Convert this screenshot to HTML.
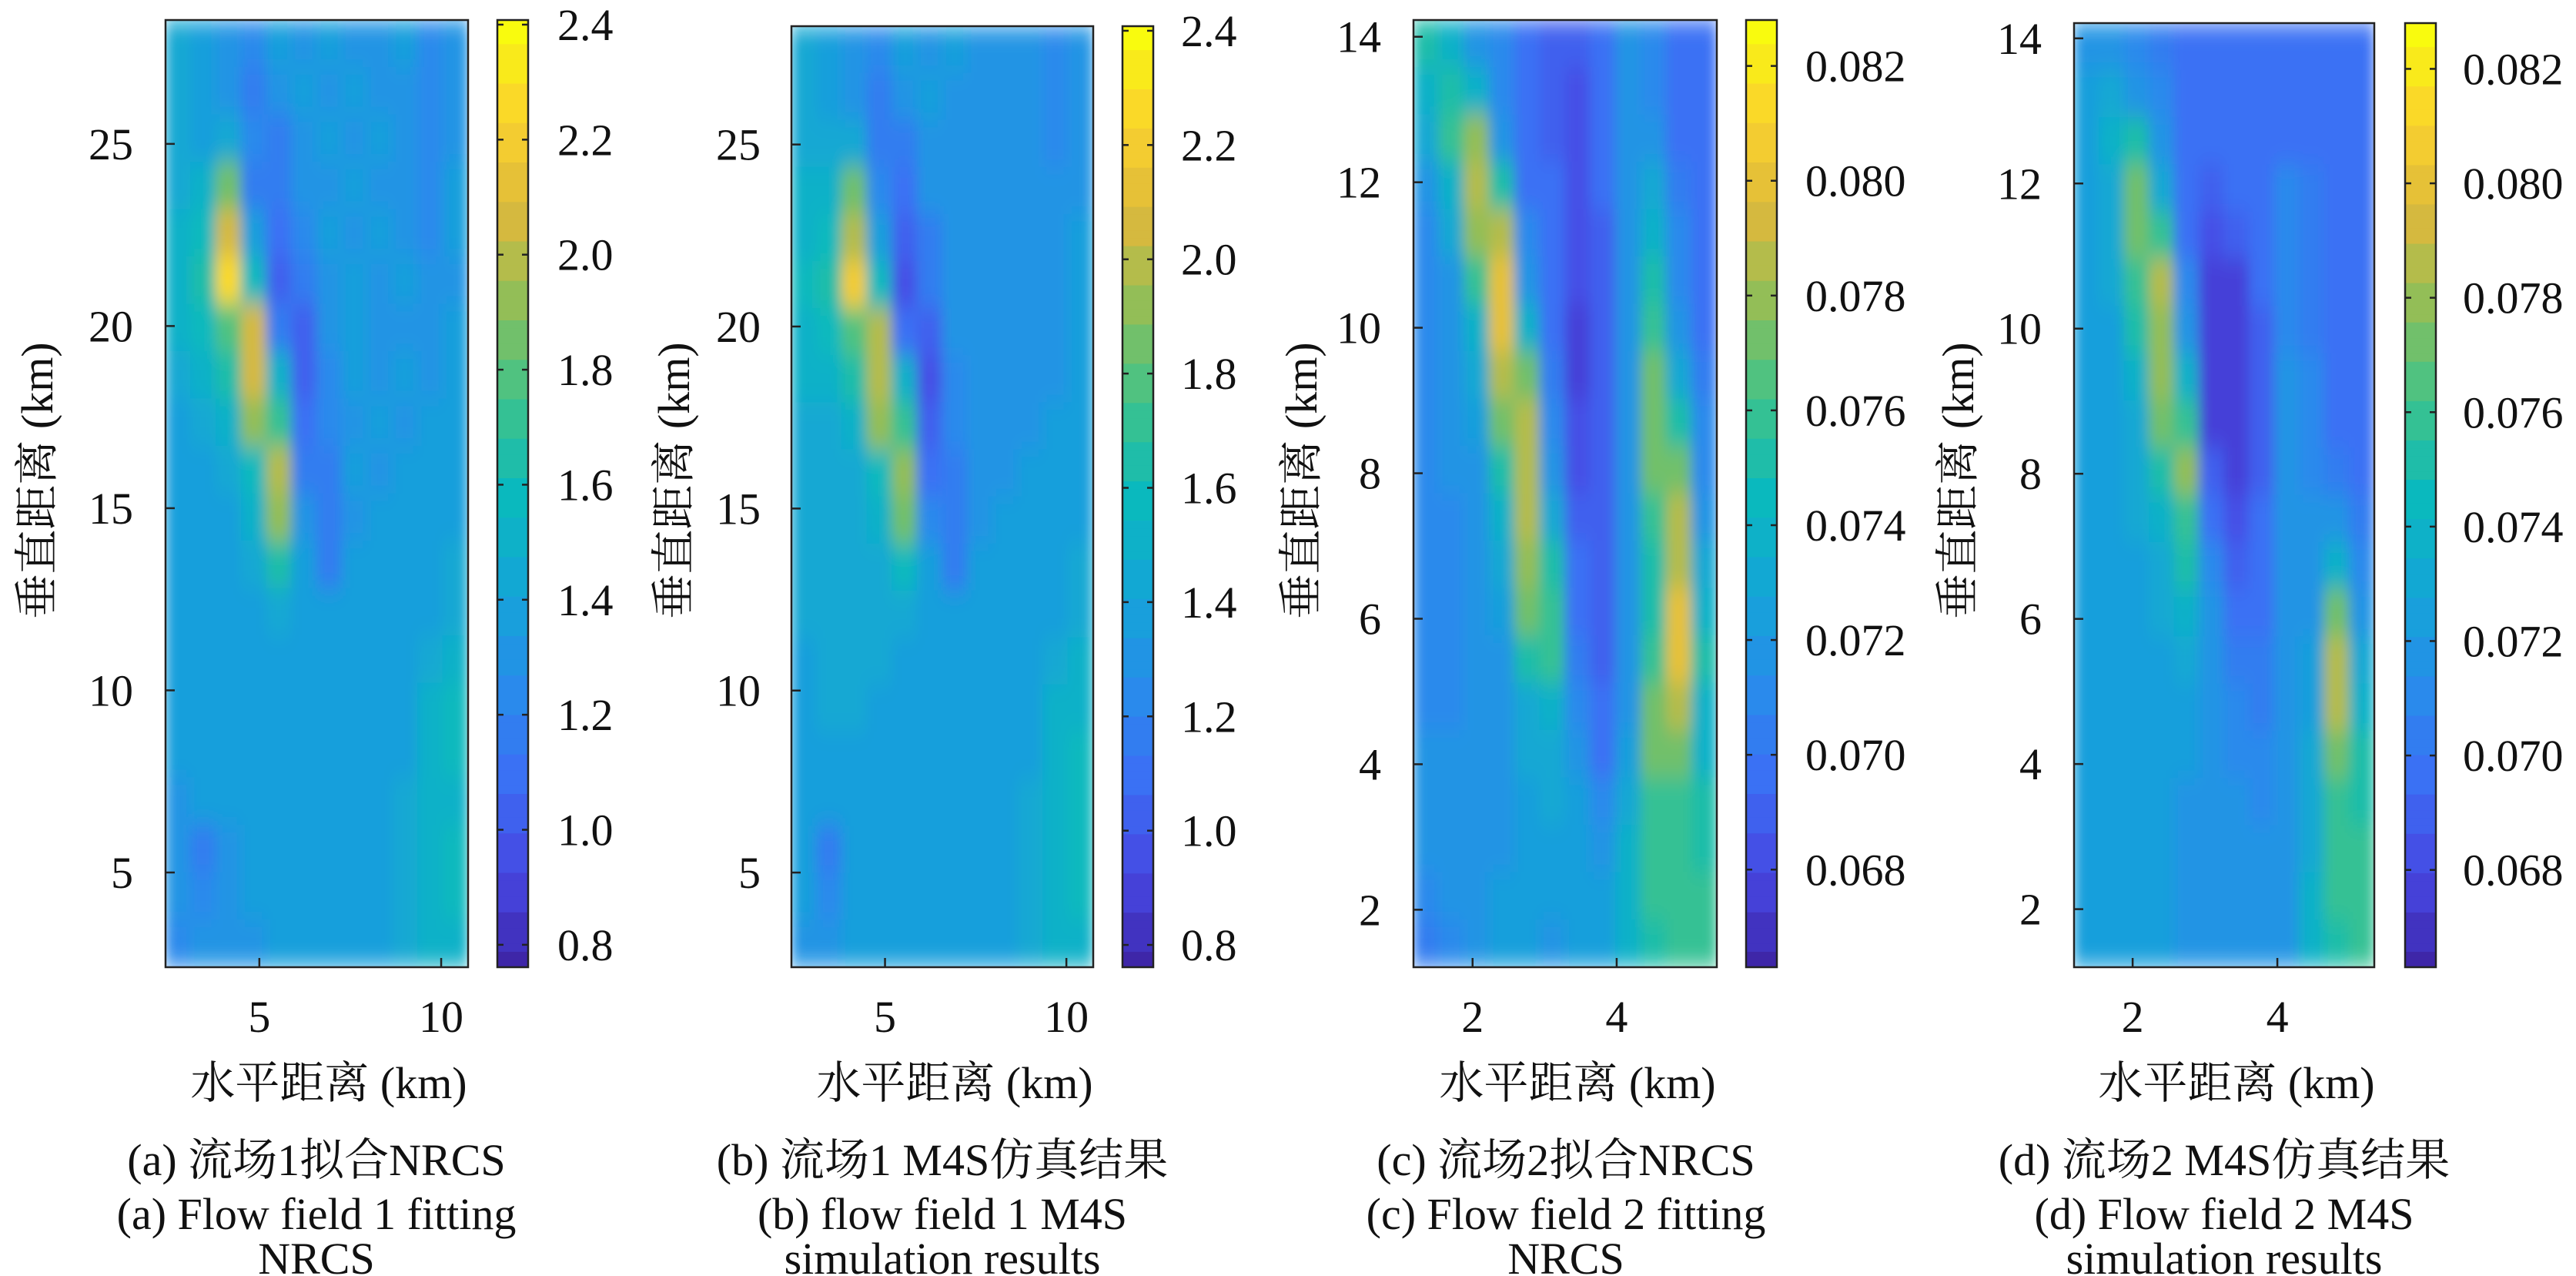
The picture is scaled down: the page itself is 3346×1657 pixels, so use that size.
<!DOCTYPE html>
<html><head><meta charset="utf-8"><style>
html,body{margin:0;padding:0;background:#fff}
svg{display:block}
text{font-family:"Liberation Serif","Noto Serif CJK SC","Noto Sans CJK SC",serif;fill:#111}
</style></head><body>
<svg id="fig" width="3346" height="1657" viewBox="0 0 3346 1657" xmlns="http://www.w3.org/2000/svg">
<defs>
<filter id="blur" x="-5%" y="-5%" width="110%" height="110%"><feGaussianBlur stdDeviation="8 15" edgeMode="duplicate"/></filter>
</defs>
</svg>
<script>
// Panel (a) values, rows top->bottom, 12 columns
const gridA=[
[1.45,1.35,1.3,1.25,1.35,1.3,1.35,1.3,1.3,1.35,1.25,1.3],
[1.45,1.35,1.3,1.2,1.3,1.35,1.3,1.35,1.3,1.3,1.25,1.3],
[1.45,1.4,1.45,1.25,1.2,1.3,1.35,1.3,1.35,1.3,1.25,1.3],
[1.45,1.55,1.85,1.2,1.15,1.3,1.3,1.35,1.3,1.3,1.25,1.35],
[1.5,1.6,2.05,1.4,1.1,1.25,1.35,1.3,1.35,1.3,1.25,1.35],
[1.55,1.65,2.25,1.6,1.05,1.2,1.3,1.35,1.3,1.35,1.3,1.3],
[1.5,1.6,1.8,2.05,1.15,1.05,1.3,1.35,1.3,1.3,1.3,1.35],
[1.45,1.5,1.65,2.05,1.5,1.05,1.25,1.35,1.3,1.35,1.3,1.35],
[1.4,1.45,1.55,1.95,1.7,1.1,1.25,1.3,1.35,1.3,1.35,1.35],
[1.4,1.4,1.45,1.6,2.0,1.15,1.2,1.35,1.3,1.35,1.35,1.35],
[1.4,1.4,1.4,1.5,1.9,1.3,1.15,1.3,1.35,1.35,1.35,1.4],
[1.4,1.4,1.4,1.45,1.65,1.4,1.2,1.35,1.35,1.35,1.4,1.45],
[1.4,1.4,1.4,1.4,1.45,1.4,1.35,1.35,1.35,1.35,1.4,1.45],
[1.35,1.4,1.4,1.4,1.4,1.4,1.4,1.35,1.35,1.4,1.45,1.5],
[1.35,1.35,1.4,1.4,1.4,1.4,1.4,1.35,1.35,1.4,1.5,1.6],
[1.35,1.35,1.35,1.4,1.4,1.4,1.4,1.4,1.35,1.4,1.5,1.6],
[1.3,1.35,1.35,1.35,1.4,1.4,1.4,1.4,1.4,1.45,1.55,1.55],
[1.3,1.2,1.3,1.35,1.35,1.4,1.4,1.4,1.4,1.45,1.55,1.6],
[1.3,1.25,1.3,1.35,1.35,1.35,1.4,1.4,1.4,1.45,1.5,1.6],
[1.25,1.3,1.3,1.3,1.35,1.35,1.4,1.35,1.4,1.45,1.5,1.55]];
const gridB=[
[1.45,1.4,1.3,1.25,1.35,1.3,1.35,1.3,1.3,1.3,1.25,1.3],
[1.45,1.4,1.3,1.2,1.3,1.35,1.3,1.3,1.3,1.3,1.25,1.3],
[1.45,1.45,1.45,1.2,1.2,1.3,1.3,1.3,1.3,1.3,1.25,1.3],
[1.5,1.55,1.85,1.25,1.1,1.3,1.3,1.3,1.3,1.3,1.3,1.3],
[1.55,1.6,2.0,1.4,1.05,1.2,1.3,1.3,1.3,1.3,1.3,1.35],
[1.6,1.65,2.2,1.6,1.0,1.15,1.3,1.3,1.3,1.3,1.3,1.35],
[1.55,1.6,1.8,2.0,1.1,1.05,1.3,1.3,1.3,1.3,1.3,1.35],
[1.5,1.5,1.65,2.0,1.5,1.0,1.25,1.3,1.3,1.3,1.3,1.35],
[1.45,1.45,1.55,1.9,1.7,1.05,1.25,1.3,1.3,1.3,1.35,1.35],
[1.45,1.45,1.45,1.6,1.95,1.1,1.2,1.3,1.3,1.35,1.35,1.35],
[1.45,1.45,1.45,1.5,1.85,1.25,1.15,1.3,1.35,1.35,1.35,1.4],
[1.45,1.45,1.45,1.45,1.6,1.4,1.2,1.35,1.35,1.35,1.4,1.45],
[1.45,1.45,1.45,1.45,1.45,1.4,1.35,1.35,1.35,1.35,1.4,1.45],
[1.4,1.45,1.45,1.45,1.4,1.4,1.4,1.4,1.35,1.4,1.45,1.5],
[1.4,1.45,1.45,1.4,1.4,1.4,1.4,1.4,1.35,1.4,1.5,1.55],
[1.4,1.4,1.4,1.4,1.4,1.4,1.4,1.4,1.4,1.4,1.5,1.6],
[1.35,1.35,1.4,1.4,1.4,1.4,1.4,1.4,1.4,1.45,1.5,1.6],
[1.35,1.2,1.35,1.4,1.4,1.4,1.4,1.4,1.4,1.45,1.55,1.6],
[1.35,1.25,1.35,1.4,1.4,1.4,1.4,1.4,1.4,1.45,1.5,1.6],
[1.3,1.3,1.35,1.35,1.4,1.4,1.4,1.4,1.4,1.45,1.5,1.55]];
// Panels (c),(d) values in units of 1e-3
const gridC=[
[75,74,72,71,70,69,69,70,72,71,70,70],
[74,75,74,71,70,69,68.5,70,72,71,70,70],
[73,76,78,72,70,69,68.5,70,72,72,70,70],
[72,74,79,75,70,69.5,68.5,69.5,72,73,70.5,70],
[71,73,78,79,71,70,68.5,69,72,74,71,70],
[71,72,76,80,72,70,68.5,69,71.5,75,71,70],
[71,72,74,80,74,70,68,69,71.5,76,72,70],
[71,71.5,73,79,77,70.5,68,69,71.5,77,73,70.5],
[71,71.5,72.5,77,79,71,68.5,69,71.5,77,75,71],
[71,71.5,72,75,79,72,68.5,69,71.5,77,77,71],
[71,71,72,74,79,73,69,69,71.5,76,79,72],
[71,71,72,73,78,75,69.5,69,71.5,75,79,73],
[71,71,71.5,72.5,77,76,70,69,71.5,75,80,74],
[71,71,71.5,72,75,76,70.5,69,72,76,80,75],
[71,71,71.5,72,73.5,74,71,69.5,72,77,79,74],
[71.5,71.5,71.5,72,73,73,72,70,72.5,77,77,74],
[72,71.5,71.5,72,72.5,73,72.5,71,73,76,76,75],
[72,72,72,72,72.5,72.5,72.5,72,74,76,76,75.5],
[71,72,72,72.5,72.5,72.5,72.5,72.5,74,76,76,76],
[70.5,71,72,72.5,72.5,72,72.5,72.5,74,75.5,76,76]];
const gridD=[
[72,72,71,70.5,70,70,70,70,70,70,70,70],
[72.5,73,72,71,70,69.5,70,70,70,70,70,70],
[72.5,74,75,71.5,70,69.5,70,70,70,70,70,70],
[72.5,73.5,77,73,70,69,69.5,70,71,70.5,70,70],
[72.5,73,77,76,70,68.5,69,70,71,70.5,70,70],
[72.5,73,76,79,71,68,68,69.5,71,70.5,70,70],
[72.5,72.5,75,78,72,67.5,67.5,69,71,70.5,70,70],
[72.5,72.5,74,78,74,67.5,67.5,69,71.5,71,70,70],
[72.5,72.5,73.5,77,76,68,67.5,69,71.5,71,70,70],
[72.5,72.5,73,75,78,69,68,69,71.5,71,70.5,70],
[72.5,72.5,73,74,76,70,68.5,69.5,72,72,72,70.5],
[72.5,72.5,72.5,73.5,75,71,69,69.5,72,72,74,71],
[72.5,72.5,72.5,73,74,72,70,70,72,72,77,72],
[72.5,72.5,72.5,72.5,73,72,70.5,70.5,72,72.5,79,73],
[72.5,72.5,72.5,72.5,72.5,72,71,70.5,72,72.5,79,74],
[72.5,72.5,72.5,72.5,72.5,72,71,71,72,73,77,75],
[72.5,72.5,72.5,72.5,72,72,71.5,71,72,73,76,75],
[72.5,72.5,72.5,72.5,72,72,71.5,71.5,72,73.5,76,76],
[72.5,72.5,72.5,72.5,72,72,71.5,71.5,72,74,76,76],
[72.5,72.5,72.5,72.5,72,72,71.5,71.5,72,74,75.5,76]];
const xTicks12=[5,10];
const yTicks12=[5,10,15,20,25];
const cbTicks12=[0.8,1.0,1.2,1.4,1.6,1.8,2.0,2.2,2.4];
const xTicks34=[2,4];
const yTicks34=[2,4,6,8,10,12,14];
const cbTicks34=[68,70,72,74,76,78,80,82];

const PAR=[[62,38,168],[70,70,225],[60,110,245],[40,140,235],[20,165,215],[10,185,190],[60,195,140],[140,190,90],[220,185,60],[250,210,45],[249,251,14]];
function parula(t){t=Math.max(0,Math.min(1,t));t=Math.round(t*24)/24;const f=t*10,i=Math.min(9,Math.floor(f)),r=f-i;const a=PAR[i],b=PAR[i+1];return `rgb(${a.map((v,k)=>Math.round(v+(b[k]-v)*r)).join(',')})`;}
const NS='http://www.w3.org/2000/svg';
const svg=document.getElementById('fig');
function el(tag,attrs,parent){const e=document.createElementNS(NS,tag);for(const k in attrs)e.setAttribute(k,attrs[k]);(parent||svg).appendChild(e);return e;}
function txt(s,attrs,parent){const e=el('text',attrs,parent);e.textContent=s;return e;}

const panels=[
{id:'a',grid:gridA,px:[215,608],py:[26,1256],xr:[2.42,10.74],yr:[28.4,2.4],vr:[0.761,2.408],xt:xTicks12,yt:yTicks12,ct:cbTicks12,fmt:v=>v.toFixed(1),cb:[646,686],cbTop:26,cbLab:724,ytx:173,ylab:48,xlab:427,cap:411,lines:['(a) 流场1拟合NRCS','(a) Flow field 1 fitting','NRCS']},
{id:'b',grid:gridB,px:[1028,1420],py:[34,1256],xr:[2.42,10.74],yr:[28.25,2.4],vr:[0.761,2.408],xt:xTicks12,yt:yTicks12,ct:cbTicks12,fmt:v=>v.toFixed(1),cb:[1458,1498],cbTop:34,cbLab:1534,ytx:988,ylab:875,xlab:1240,cap:1224,lines:['(b) 流场1 M4S仿真结果','(b) flow field 1 M4S','simulation results']},
{id:'c',grid:gridC,px:[1836,2230],py:[26,1256],xr:[1.18,5.39],yr:[14.23,1.21],vr:[66.3,82.8],xt:xTicks34,yt:yTicks34,ct:cbTicks34,fmt:v=>'0.0'+v.toFixed(0),cb:[2268,2308],cbTop:26,cbLab:2345,ytx:1794,ylab:1690,xlab:2049,cap:2034,lines:['(c) 流场2拟合NRCS','(c) Flow field 2 fitting','NRCS']},
{id:'d',grid:gridD,px:[2694,3084],py:[30,1256],xr:[1.19,5.34],yr:[14.21,1.2],vr:[66.3,82.8],xt:xTicks34,yt:yTicks34,ct:cbTicks34,fmt:v=>'0.0'+v.toFixed(0),cb:[3124,3164],cbTop:30,cbLab:3199,ytx:2652,ylab:2543,xlab:2905,cap:2889,lines:['(d) 流场2 M4S仿真结果','(d) Flow field 2 M4S','simulation results']}
];
const defs=svg.querySelector('defs');
const FS=58;
panels.forEach(p=>{
  const g=el('g',{});
  
  
  const X=v=>p.px[0]+(v-p.xr[0])/(p.xr[1]-p.xr[0])*(p.px[1]-p.px[0]);
  const Y=v=>p.py[0]+(v-p.yr[0])/(p.yr[1]-p.yr[0])*(p.py[1]-p.py[0]);
  const C=v=>parula((v-p.vr[0])/(p.vr[1]-p.vr[0]));
  const cp=el('clipPath',{id:'clip'+p.id},defs);
  el('rect',{x:p.px[0],y:p.py[0],width:p.px[1]-p.px[0],height:p.py[1]-p.py[0]},cp);
  const hold=el('g',{'clip-path':`url(#clip${p.id})`},g);
  const hm=el('g',{filter:'url(#blur)'},hold);
  
  
  const nr=p.grid.length,nc=p.grid[0].length;
  const dx=(p.xr[1]-p.xr[0])/nc,dy=(p.yr[1]-p.yr[0])/nr;
  p.grid.forEach((row,i)=>row.forEach((v,j)=>{
    const x0=X(p.xr[0]+j*dx),x1=X(p.xr[0]+(j+1)*dx),y0=Y(p.yr[0]+i*dy),y1=Y(p.yr[0]+(i+1)*dy);
    const r=el('rect',{x:x0-0.5,y:y0-0.5,width:x1-x0+1,height:y1-y0+1,fill:C(v)},hm);
    
    
  }));
  const box=el('rect',{x:p.px[0],y:p.py[0],width:p.px[1]-p.px[0],height:p.py[1]-p.py[0],fill:'none',stroke:'#222','stroke-width':2.5},g);
  
  
  p.xt.forEach(t=>{const x=X(t);el('line',{x1:x,x2:x,y1:p.py[1],y2:p.py[1]-12,stroke:'#222','stroke-width':2.5},g);
    const l=txt(String(t),{x:x,y:1340,'font-size':FS,'text-anchor':'middle'},g);
    
    });
  p.yt.forEach(t=>{const y=Y(t);el('line',{x1:p.px[0],x2:p.px[0]+12,y1:y,y2:y,stroke:'#222','stroke-width':2.5},g);
    const l=txt(String(t),{x:p.ytx,y:y+20,'font-size':FS,'text-anchor':'end'},g);
    
    });
  const cbg=el('g',{},g);
  
  
  const N=120,h=(p.py[1]-p.cbTop)/N;
  for(let k=0;k<N;k++){el('rect',{x:p.cb[0],y:p.py[1]-(k+1)*h-0.5,width:p.cb[1]-p.cb[0],height:h+1,fill:parula((k+0.5)/N)},cbg);}
  el('rect',{x:p.cb[0],y:p.cbTop,width:p.cb[1]-p.cb[0],height:p.py[1]-p.cbTop,fill:'none',stroke:'#222','stroke-width':2.5},cbg);
  const CY=v=>p.py[1]-(v-p.vr[0])/(p.vr[1]-p.vr[0])*(p.py[1]-p.cbTop);
  p.ct.forEach(t=>{const y=CY(t);
    el('line',{x1:p.cb[0],x2:p.cb[0]+8,y1:y,y2:y,stroke:'#222','stroke-width':2.5},cbg);
    el('line',{x1:p.cb[1],x2:p.cb[1]-8,y1:y,y2:y,stroke:'#222','stroke-width':2.5},cbg);
    const l=txt(p.fmt(t),{x:p.cbLab,y:y+20,'font-size':FS},cbg);
    
    });
  const yl=txt('垂直距离 (km)',{x:0,y:0,'font-size':FS,'text-anchor':'middle',transform:`translate(${p.ylab+20},624) rotate(-90)`},g);
  
  
  const xl=txt('水平距离 (km)',{x:p.xlab,y:1426,'font-size':FS,'text-anchor':'middle'},g);
  
  
  [1526,1596,1654].forEach((yy,k)=>{const c=txt(p.lines[k],{x:p.cap,y:yy,'font-size':FS,'text-anchor':'middle'},g);
    
    });
});
</script>
</body></html>
